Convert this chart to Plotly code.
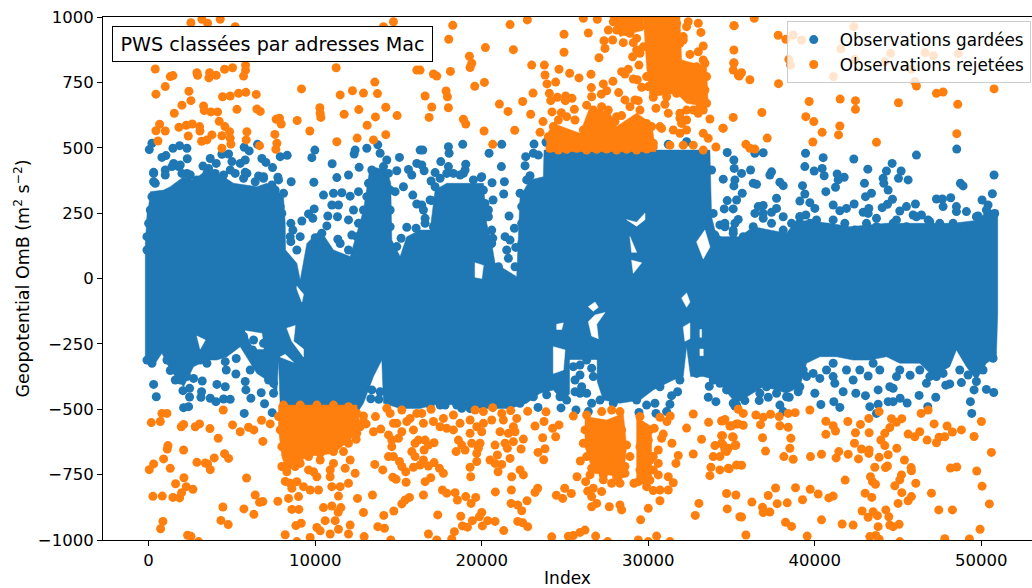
import plotly.graph_objects as go

TITLE = "PWS classées par adresses Mac"
KEPT = "Observations gardées"
REJECTED = "Observations rejetées"
x_ticks = [0, 10000, 20000, 30000, 40000, 50000]
x_labels = ["0", "10000", "20000", "30000", "40000", "50000"]
y_ticks = [-1000, -750, -500, -250, 0, 250, 500, 750, 1000]

# Solid blue mass: outline (x, y), where the points merge
kept_mass = [(-198,130),(-150,200),(-80,260),(2,275),(102,332),(902,338),(1302,351),(2102,389),(2702,377),(3502,415),(4502,389),(5102,364),(6502,351),(7102,364),(8102,313),(8202,211),(8222,109),(8902,58),(9102,-6),(9502,134),(10302,185),(11102,109),(12102,84),(12902,262),(13302,428),(14302,415),(14542,364),(14602,147),(15102,84),(15502,160),(16302,185),(16902,185),(17202,338),(17902,364),(18902,364),(20102,364),(20302,211),(20602,134),(20802,58),(22102,7),(22302,313),(22902,377),(23702,389),(23742,491),(33702,491),(33802,236),(34002,185),(34302,160),(35502,160),(36302,198),(38302,173),(38902,224),(40902,211),(42102,198),(44302,211),(46302,211),(48302,211),(49902,224),(50302,262),(50982,262),(50982,-133),(50902,-299),(50302,-324),(49702,-388),(49102,-337),(48502,-273),(48102,-337),(47102,-375),(46302,-324),(45102,-324),(44302,-299),(43302,-312),(42302,-312),(41302,-299),(40302,-299),(39502,-324),(39102,-414),(38302,-439),(37702,-426),(36902,-414),(35902,-452),(35302,-477),(35102,-465),(34102,-388),(33302,-375),(32542,-375),(32302,-261),(32102,-375),(31502,-388),(30302,-426),(29502,-465),(28302,-477),(27302,-465),(26902,-388),(25302,-439),(24902,-470),(24302,-426),(23502,-439),(22702,-477),(21702,-497),(19902,-497),(18302,-484),(17502,-477),(16302,-497),(15102,-497),(14102,-477),(14002,-312),(13502,-375),(12902,-477),(12502,-516),(7902,-490),(7802,-312),(7702,-439),(7102,-388),(6502,-363),(5502,-261),(4702,-299),(4102,-312),(3502,-312),(2702,-337),(2102,-414),(1302,-350),(802,-286),(402,-324),(-198,-312)]

# Small white gaps left inside the blue mass
mass_gaps = [
    [(24302,-261),(25002,-273),(24902,-350),(24302,-363)],
    [(26402,-165),(26802,-140),(27402,-130),(26902,-175),(27002,-230),(26602,-220)],
    [(26402,-108),(26802,-90),(27002,-110),(26702,-125)],
    [(32002,-75),(32302,-55),(32502,-90),(32302,-110)],
    [(32102,-185),(32502,-170),(32502,-230),(32202,-240)],
    [(33102,-195),(33202,-195),(33202,-225),(33102,-225)],
    [(33102,-270),(33302,-270),(33302,-295),(33102,-295)],
    [(24502,-175),(24902,-170),(24802,-195),(24502,-195)],
    [(25302,-312),(26902,-312),(26902,-439),(25302,-439)],
    [(32902,140),(33402,185),(33702,120),(33302,75)],
    [(29002,70),(29602,60),(29102,20)],
    [(19602,60),(20102,50),(20002,0),(19602,5)],
    [(28902,160),(29302,100),(29002,100)],
    [(28702,225),(29302,215),(29802,250),(29802,225),(29302,200)],
    [(8902,-30),(9302,-60),(9202,-90),(8902,-40)],
    [(8302,-190),(8802,-180),(8702,-240),(9302,-270),(9302,-300),(8602,-240)],
    [(7902,-300),(8302,-310),(8702,-320),(8200,-290)],
    [(5802,-200),(6802,-210),(6902,-270),(6302,-270)],
    [(2902,-220),(3402,-235),(3102,-270)],
]

# Solid orange clusters: outlines
rejected_masses = [
    [(7802,-484),(12502,-484),(12702,-567),(12102,-618),(11102,-669),(9502,-681),(8302,-739),(8002,-681),(7802,-579)],
    [(26202,-528),(27502,-541),(28502,-516),(28702,-643),(28502,-758),(26702,-745),(26202,-643)],
    [(29302,-530),(30202,-567),(30202,-783),(29302,-783)],
    [(23902,549),(24302,593),(25902,555),(26502,657),(27702,632),(28102,581),(29302,632),(30202,593),(30462,485),(23902,485)],
    [(29702,1000),(31902,1000),(32002,836),(33502,810),(33602,657),(32302,670),(31702,708),(30102,695),(29902,810)],
    [(27702,1000),(29702,1000),(29702,950),(28302,925)],
]

kept_top = [(42,493),(202,517),(1462,498),(1862,508),(2302,498),(2322,458),(802,463),(1042,470),(1502,440),(1902,434),(302,406),(302,370),(1002,415),(2302,402),(3262,430),(3702,459),(4062,440),(4402,475),(4802,476),(5002,447),(5502,440),(5802,453),(5742,502),(6042,488),(6542,513),(6802,459),(7042,444),(7442,424),(7902,466),(8322,471),(7762,387),(8562,370),(5802,406),(6602,392),(6902,383),
(9982,491),(9802,462),(11022,439),(9922,368),(11302,386),(12002,396),(12642,425),(12402,491),(12342,476),(13102,498),(13762,511),(13902,479),(14302,453),(15062,463),(14902,412),(15602,417),(15802,396),(16102,440),(16302,491),(15302,351),(14802,332),(15862,319),(16102,285),(12602,332),(12102,315),(11602,328),(10502,319),(11102,326),(11002,281),(11402,281),(12302,262),(12002,224),(11342,236),(10762,239),(9942,266),(9602,247),(9862,230),(9202,220),(8542,211),(8662,185),(9102,160),(8542,141),(15502,196),(15162,154),(16062,192),(10702,201),(10402,173),(10002,156),(11362,150),(12202,166),(14902,122),
(16462,491),(16402,434),(16542,412),(18002,504),(18862,513),(18042,479),(17542,447),(18002,428),(17202,405),(16962,373),(19042,437),(18902,402),(19962,386),(20622,366),(21362,370),(21322,323),(20682,300),(20402,262),(21642,239),(21962,192),(20662,154),(21402,160),(22042,119),(21202,513),(20442,479),(21182,428),(17002,298),(16602,230),(16402,281),(21702,147),
(23142,514),(22642,466),(23102,479),(23402,472),(22602,431),(22902,393),(23862,521),(31202,513),(32302,523),
(34742,482),(36402,479),(36902,481),(35142,453),(35162,421),(35602,402),(36142,415),(34502,380),(35202,377),(35142,354),(36302,364),(36502,360),(37402,408),(37302,396),(37902,368),(38102,355),(35642,326),(34742,298),(35302,300),(35102,266),(34562,266),(37702,307),(36902,279),(36602,275),(36402,249),(37702,268),(37402,253),(38102,236),(35402,226),(35202,211),(36902,230),(33802,415),(33902,249),(34302,205),(34602,198),(34002,166),(34202,147),(35102,173),
(39442,479),(40502,462),(42342,457),(39402,428),(39962,411),(40442,421),(40562,393),(41342,400),(41762,387),(41402,377),(41242,349),(39262,355),(39402,323),(40662,332),(39102,296),(39702,290),(40002,268),(41102,281),(41502,259),(41902,268),(42362,285),(40102,224),(39462,243),(39102,236),
(43182,418),(44642,440),(44302,411),(45182,411),(45022,383),(45602,377),(42982,364),(44102,383),(44142,364),(44402,338),(43402,326),(43042,313),(44662,303),(44362,284),(44042,271),(43242,268),(42902,253),(43202,249),(46102,472),(48522,495),(50762,396),(48742,364),(48902,354),(50662,324),(50042,300),(47302,304),(47662,304),(48162,309),(46042,285),(45502,275),(45102,258),(45902,243),(46402,243),(46802,224),(47702,275),(48502,275),(49102,256),(50402,281),(49802,239),(43102,211),(43702,230),(44902,224),(48502,256)]

kept_top_edge = [(302,402),(402,364),(1002,396),(1402,428),(1802,428),(2002,402),(2502,396),(2902,377),(3502,402),(3602,421),(4002,402),(4502,396),(4902,415),(5202,402),(5702,383),(5902,402),(6402,370),(6902,389),(7402,358),(7802,377),(7602,338),(8102,326),(7302,300),(7902,275),(8002,249),(202,313),(102,262),(2,211),(-98,160),(-98,109),
(8502,160),(8902,109),(9902,109),(10302,134),(11502,134),(12002,109),(12502,160),(12602,211),(12902,262),(13102,313),(13202,364),(13402,415),(14102,428),(14402,402),(14502,338),(14502,262),(14502,198),
(16902,300),(17202,351),(17502,383),(17902,402),(18302,402),(18702,396),(19002,415),(19502,377),(20002,389),(20102,338),(20202,287),(20402,236),(20602,185),(20602,134),(21002,45),(21502,109),(21602,77),(22002,45),(22302,326),(22402,275),(22402,211),(22402,134),(22702,377),(16502,262),(16602,211),(17102,198),
(34602,211),(35102,185),(35702,160),(36302,198),(36902,249),(37402,211),(38102,185),(38602,211),(39102,236),(39702,211),(40302,198),(41102,224),(41802,211),(42402,185),(43102,185),(43702,198),(44702,211),(45502,198),(46102,236),(46902,217),(47502,211),(48302,211),(49002,192),(49702,236),(50302,262),(50802,249)]

kept_bottom = [(202,-324),(302,-405),(462,-452),(802,-258),(1302,-352),(1602,-388),(2062,-429),(2462,-420),(2462,-453),(2102,-494),(2402,-490),(2702,-382),(3222,-392),(3182,-433),(3142,-454),(3702,-458),(4042,-471),(4102,-405),(4602,-414),(4502,-461),(4902,-462),(4662,-350),(4602,-318),(5262,-306),(5242,-365),(4002,-292),(3502,-324),(5802,-394),(5842,-426),(6142,-458),(5742,-516),(6102,-350),(6302,-235),(6242,-273),(6802,-347),(7202,-388),(6762,-437),(7502,-439),(6962,-479),(7422,-513),
(13342,-460),(13822,-462),(13402,-426),(13902,-433),
(23382,-493),(24762,-495),(25662,-503),(26002,-414),(25602,-433),(25902,-331),(25902,-369),(25502,-337),(26402,-509),(26602,-477),(29442,-512),(30462,-516),(31102,-509),(31302,-481),(31402,-448),(31762,-433),(30402,-477),(33662,-412),(33602,-454),(34062,-471),(18802,-496),(17502,-484),(26302,-312),(26602,-343),(26702,-375),(26302,-439),(25902,-439),(25602,-388),
(37902,-484),(38102,-509),(40362,-482),(41142,-471),(41502,-493),(43302,-490),(43802,-481),(43702,-516),(44402,-471),(44702,-471),(45122,-458),(45542,-476),(46782,-490),(46262,-447),(47262,-454),(49342,-471),(49422,-516),(49562,-426),(50302,-424),(50742,-436),(48802,-398),(48102,-403),(47862,-408),(45722,-370),(44702,-420),(43802,-426),(43042,-448),(42462,-439),(41702,-433),(40002,-439),(38462,-454),(37202,-454),(36662,-467),(35802,-467),(35202,-488),(43202,-373),(42302,-388),(40302,-382),(41102,-375),(44502,-414),(46702,-401),(47302,-375),(48702,-350),(49202,-369),(49702,-394),(39002,-433),(39502,-375)]

kept_bottom_edge = [(35502,-439),(35102,-477),(36302,-388),(36702,-439),(37102,-414),(37702,-439),(38302,-452),(39102,-414),(39302,-350),(39902,-363),(40702,-350),(41102,-324),(41202,-401),(41902,-350),(42702,-350),(43502,-324),(43902,-350),(44902,-375),(45102,-350),(46302,-350),(46902,-375),(47702,-363),(49502,-337),(50102,-350),(50702,-305),
(-98,-312),(1102,-312),(1902,-388),(2302,-375),(3102,-312),(5702,-222),(6902,-248),(7502,-401),
(16902,-484),(17802,-484),(18502,-484),(19302,-497),(22302,-477),(23102,-452),(23902,-445),(24702,-452),(25102,-465),(27102,-465),(27902,-477),(29302,-465),(29902,-484),(30702,-414),(31902,-388),(32902,-363),(33902,-388),(34302,-401),(34702,-426),(35302,-484)]

rejected_top_a = [(2542,978),(3202,991),(3542,976),(4302,991),(5202,963),(402,801),(14702,982),(14102,963),(11262,806),(16102,797),(1302,772),(1462,776),(1002,734),(442,705),(2422,716),(2542,680),(2002,663),(1542,632),(2902,787),(2942,777),(3662,787),(3622,767),(4062,777),(4562,800),(5042,806),(5822,816),(5822,797),(5702,774),(4442,695),(4902,698),(5402,708),(5842,712),(6462,704),(3302,660),(3342,642),(3742,637),(4142,637),(5302,647),(6502,648),(6702,639),(7662,609),(7862,613),(7962,591),(8922,604),(9182,725),(10282,653),(10302,632),(10342,616),(11502,702),(12242,718),(12902,709),(13582,751),(13742,707),(12622,646),(11742,628),(14242,655),(14922,623),(13622,618),(13122,586),(14242,550),(12522,537),(13502,530),(11302,523),(9682,564),(662,590),(442,565),(1002,564),(562,526),(1822,578),(2262,586),(2622,591),(3062,581),(3082,564),(4242,601),(4582,581),(4862,561),(4402,546),(3802,549),(2382,545),(3182,525),(3502,530),(4902,536),(4942,514),(5902,561),(5862,530),(7582,551),(6662,508),(7702,517),(7642,494),(4402,498)]

rejected_top_b = [(18262,968),(18022,915),(20222,883),(21902,875),(21702,971),(22742,989),(24942,934),(26402,939),(24942,865),(26102,995),(26942,991),(19262,850),(19402,823),(19302,807),(18122,792),(17102,782),(17302,774),(16302,797),(27042,844),(23002,816),(23762,816),(23802,778),(24642,800),(25282,785),(25842,767),(26562,781),(24442,751),(23922,744),(20162,750),(19582,735),(17862,717),(17942,695),(16602,698),(23082,709),(22462,677),(21062,667),(21582,639),(22942,628),(23682,600),(23502,559),(21982,567),(20142,564),(20662,513),(18902,609),(19042,591),(18002,653),(17002,656),(16842,616),(24062,708),(24142,680),(24542,693),(25042,698),(25022,680),(25422,689),(25562,647),(24222,637),(24782,634),(26582,730),(27302,744),(27502,718),(27182,705),(27882,754),(28222,711),(28602,683),(29202,683),(29402,680),(29602,731),(29102,763),(29342,760),(28402,791),(28802,800),(28602,782),(29442,816),(29062,848),(27402,880),(27342,909),(27862,912),(28502,902),(29102,902),(27602,950),(28302,957),(28902,938),(26302,663),(28402,623),(28102,619),(28902,657),(30462,651),(30802,574),(31202,632),(31002,666),(30702,581),(31502,568),(31902,613),(31302,510),(32102,510),(32702,510),(33302,491),(33302,555),(33702,610),(34482,575),(35102,616),(34062,503),(33602,536),(31902,555),(32302,568),(32502,857),(33302,889),(33002,867),(33302,836),(33162,941),(33002,976),(32302,963),(32402,982),(32102,912),(35162,967),(35142,874),(35142,825),(35102,797),(35402,778)]

rejected_top_c = [(35142,967),(36362,995),(35142,823),(35602,787),(35462,774),(36102,760),(37822,745),(37802,930),(38262,915),(38702,931),(39202,912),(38442,838),(38542,816),(41562,878),(42342,963),(42402,838),(41122,772),(44202,829),(44542,861),(45802,800),(46622,864),(47122,852),(48622,860),(46002,753),(46102,736),(47302,708),(47702,713),(50762,725),(48582,666),(45022,672),(42442,680),(42442,647),(41522,686),(39662,677),(39462,619),(39942,600),(41502,583),(41422,549),(40442,559),(39882,522),(43702,521),(48522,554),(36822,635),(34502,575),(37142,537),(35862,513),(36102,498),(36402,495)]

rejected_top_edge = [(24102,498),(24602,491),(25102,494),(25702,498),(26302,491),(26902,494),(27502,495),(28102,491),(28702,494),(29302,491),(29902,495),(30302,504),
(24002,542),(24302,581),(24602,606),(25102,619),(25602,606),(26102,568),(26502,593),(26702,644),(26602,695),(27202,657),(27602,644),(28002,600),(28502,574),(28902,593),(29502,644),(29902,593),(30202,581),(30302,517),
(29702,886),(29502,861),(29302,874),(29902,772),(30002,734),(30302,693),(31102,695),(31702,708),(31902,899),(32102,925),(31702,976),(32302,797),(32902,810),(33402,823),(33502,772),(33402,721),(33502,670),(33102,657),(32702,644),(32302,644),(31902,632),(33302,644),(33002,632),(32302,606),(32002,593),
(27902,982),(28502,969),(29102,976),(29502,963),(28102,950),(28702,944),(29302,918)]

rejected_low_a = [(162,-551),(702,-547),(802,-516),(1102,-516),(1962,-567),(2102,-558),(2802,-567),(3062,-556),(3682,-574),(4482,-503),(4182,-611),(5042,-560),(5502,-586),(6002,-569),(6322,-579),(6782,-542),(7302,-556),(6862,-623),(1162,-639),(1122,-652),(2102,-656),(902,-690),(302,-709),(42,-731),(1302,-726),(2902,-703),(3402,-706),(3942,-686),(3542,-709),(3702,-731),(4562,-670),(4802,-688),(2122,-762),(1622,-785),(2262,-796),(2662,-806),(1982,-819),(262,-833),(822,-832),(1462,-837),(1862,-839),(5882,-763),(6402,-828),(6662,-856),(6862,-853),(4462,-874),(5722,-881),(6322,-902),(4342,-925),(4782,-941),(862,-929),(722,-957),(2342,-982),(2542,-986),(3002,-1006),(7762,-852),(8202,-776),(8202,-980),(8402,-841),(8602,-883),(9022,-883),(8842,-945),(9162,-936),(8902,-1006),(9702,-990),(10102,-952),(10602,-926),(10502,-876),(11002,-870),(11542,-876),(11382,-894),(11202,-926),(10302,-965),(10902,-977),(11402,-959),(12102,-943),(12002,-977),(12542,-841),(12902,-895),(13442,-828),(12942,-987),(13762,-949),(14162,-955),(14122,-906),(14722,-889),(14542,-1000),(15202,-862),(15402,-847),(15662,-837),(8502,-783),(8902,-777),(8602,-802),(9002,-834),(9302,-796),(9702,-809),(9602,-732),(10202,-809),(10102,-758),(10902,-758),(11002,-796),(11502,-796),(12002,-783),(12402,-745),(11802,-726),(11102,-707),(12102,-694),(10302,-694),(9902,-739),(11402,-832),(10902,-732),(12902,-526),(13062,-556),(13622,-528),(13502,-586),(13942,-576),(12462,-615),(13582,-711),(14062,-732),(14662,-760),(14862,-768),(15462,-779),(15442,-739),(15902,-722),(16302,-713),(14402,-681),(14702,-681),(15062,-700),(15202,-719),(14302,-496),(14502,-516),(14702,-554),(14402,-598),(14602,-618),(14602,-643),(14902,-554),(15202,-503),(15502,-547),(15702,-535),(15202,-586),(15002,-611),(15902,-579),(16102,-516),(16002,-630),(15802,-662),(16002,-681),(16202,-618)]

rejected_low_b = [(16962,-500),(16402,-516),(16502,-554),(17102,-547),(17702,-535),(17502,-567),(17902,-573),(18302,-522),(18702,-554),(18302,-579),(19302,-541),(19602,-503),(20102,-509),(20662,-494),(21202,-516),(21742,-505),(22102,-535),(22762,-508),(23862,-510),(19702,-567),(20102,-554),(20602,-541),(21302,-541),(21902,-567),(19302,-592),(20002,-586),(21102,-586),(21602,-592),(22002,-586),(22502,-614),(21902,-624),(21402,-630),(20802,-637),(19402,-630),(19902,-630),(18602,-618),(18802,-637),(18462,-662),(19002,-656),(19702,-669),(19802,-649),(22362,-652),(21542,-649),(20942,-675),(20502,-694),(21202,-711),(20802,-707),(21702,-688),(19702,-700),(19302,-722),(19342,-758),(20982,-739),(21802,-758),(22302,-732),(22502,-751),(16602,-618),(17142,-628),(16802,-637),(16542,-656),(16502,-694),(17142,-704),(16802,-717),(17462,-726),(17702,-745),(16942,-762),(16602,-777),(17642,-809),(17902,-821),(18402,-819),(18542,-847),(19042,-834),(19642,-837),(19362,-860),(20822,-816),(21782,-809),(16502,-828),(21762,-860),(22162,-866),(22402,-888),(22722,-850),(23202,-818),(23362,-802),(24482,-829),(24862,-841),(24982,-802),(25382,-822),(17362,-904),(18742,-909),(19442,-926),(20002,-895),(19862,-911),(20362,-926),(20802,-929),(18842,-946),(19142,-951),(20042,-946),(18362,-968),(21322,-964),(22162,-929),(22462,-934),(22762,-949),(16802,-977),(17302,-1000),(18202,-996),(24202,-988),(25202,-986),(25502,-983),(25902,-971),(26202,-962),(26842,-985),(27562,-1006),(23202,-564),(23742,-547),(24262,-573),(24642,-560),(24442,-605),(23662,-609),(23802,-651),(23382,-665),(23722,-693),(25502,-526),(25922,-698),(25722,-758),(26242,-777),(26362,-813),(26602,-834),(26602,-873),(26902,-860),(27662,-873),(28302,-866),(28402,-885),(30002,-879),(29542,-923),(30702,-850),(30702,-809),(30302,-811),(29902,-796),(29402,-777),(29142,-783),(31202,-809),(31502,-781),(31202,-758),(31662,-707),(31802,-677),(31422,-630),(30902,-595),(30802,-611),(30362,-573),(31322,-526),(31122,-547),(30702,-531),(29402,-1000),(30502,-985),(30002,-1006),(31302,-1006),(28302,-783),(27802,-783),(27202,-815),(26702,-802),(27302,-770),(26502,-751),(30602,-656),(30602,-707),(30602,-751),(30302,-681),(30302,-732),(28902,-681),(28602,-719),(28302,-751),(32702,-518),(32302,-572),(33202,-615),(32702,-671),(33622,-550),(34402,-545),(34602,-539),(34902,-564),(35302,-556),(34402,-601),(35062,-605),(34002,-639),(34502,-637),(35202,-639),(33902,-681),(34702,-662),(35302,-713),(34802,-726),(34302,-732),(33762,-722),(33702,-754),(34702,-822),(35262,-828),(34742,-881),(33042,-860),(32822,-906),(35502,-911)]

rejected_low_c = [(35402,-500),(35702,-516),(34502,-544),(35002,-563),(35402,-556),(35702,-561),(36462,-522),(36902,-531),(37342,-519),(36742,-559),(37862,-528),(38402,-516),(38822,-513),(37902,-563),(38402,-569),(39702,-503),(36862,-609),(37042,-660),(34462,-601),(35102,-607),(35262,-637),(34802,-649),(34402,-630),(38562,-611),(38502,-649),(38142,-681),(38702,-691),(39742,-681),(40402,-672),(40662,-546),(41102,-563),(41242,-583),(40662,-596),(41982,-547),(42742,-558),(42442,-590),(43262,-590),(43242,-535),(43862,-509),(44602,-536),(45222,-536),(44902,-550),(44502,-570),(44202,-592),(43962,-618),(44202,-639),(42382,-630),(42802,-652),(43262,-656),(43242,-669),(42002,-672),(41442,-662),(41282,-686),(42622,-690),(43862,-684),(44402,-674),(44922,-649),(45382,-694),(43602,-722),(44362,-717),(44242,-723),(45782,-723),(45802,-735),(45602,-595),(46002,-605),(46302,-586),(46742,-618),(46382,-516),(46802,-503),(47162,-556),(47942,-564),(47302,-628),(47462,-607),(47802,-605),(48262,-587),(48802,-579),(49562,-604),(50002,-547),(50602,-665),(48142,-725),(48522,-721),(49722,-736),(50042,-794),(50482,-862),(49922,-959),(48262,-885),(47442,-885),(47802,-995),(49282,-996),(47002,-821),(46062,-783),(45202,-751),(45102,-770),(44802,-793),(45222,-819),(45802,-834),(45602,-850),(45002,-860),(44262,-885),(44442,-911),(44502,-943),(45062,-940),(44702,-949),(43802,-949),(43762,-907),(43502,-892),(43202,-913),(42842,-889),(43022,-821),(43422,-837),(43342,-758),(43462,-777),(43642,-787),(41822,-771),(41102,-832),(40842,-839),(40202,-824),(39722,-806),(39262,-846),(38842,-800),(38342,-858),(37742,-861),(37642,-801),(37202,-830),(36222,-855),(36862,-875),(36902,-895),(37302,-893),(35602,-912),(38242,-932),(38602,-948),(40402,-923),(41642,-939),(42302,-943),(35862,-981),(39542,-985),(43302,-987),(43662,-983),(43862,-997),(45102,-1006),(34862,-728),(35602,-714),(34602,-656),(34302,-681)]

rejected_low_edge = [(8002,-719),(8302,-739),(8802,-719),(9102,-707),(9602,-681),(10302,-669),(11102,-662),(11702,-662),(12002,-630),(12502,-592),(12702,-567),(12902,-547),(7802,-528),(7902,-579),(8002,-643),(8102,-484),(9102,-484),(10102,-484),(11102,-484),(12002,-490),(12502,-516),
(26302,-522),(26202,-579),(26102,-630),(26302,-681),(26602,-726),(27302,-751),(28102,-758),(28602,-745),(28702,-637),(28402,-579),(28302,-509),(27802,-503),(27202,-509),
(29502,-528),(29602,-567),(30102,-579),(30002,-618),(29502,-643),(30102,-694),(29502,-732),(30102,-771),(29602,-771)]

BLUE = "#1f77b4"
ORANGE = "#ff7f0e"
FONT = "DejaVu Sans"


def rings(polygons):
    xs, ys = [], []
    for poly in polygons:
        xs += [p[0] for p in poly] + [poly[0][0], None]
        ys += [p[1] for p in poly] + [poly[0][1], None]
    return xs, ys


def area(polygons, colour):
    xs, ys = rings(polygons)
    return go.Scatter(x=xs, y=ys, mode="lines", fill="toself", fillcolor=colour,
                      line=dict(color=colour, width=0.5), showlegend=False, hoverinfo="skip")


def dots(points, colour, name):
    return go.Scatter(x=[p[0] for p in points], y=[p[1] for p in points], mode="markers", name=name,
                      marker=dict(color=colour, size=9, line=dict(width=0)), hoverinfo="skip")


fig = go.Figure()
fig.add_trace(area([kept_mass], BLUE))
fig.add_trace(area(mass_gaps, "white"))
fig.add_trace(dots(kept_top + kept_top_edge + kept_bottom + kept_bottom_edge, BLUE, KEPT))
fig.add_trace(area(rejected_masses, ORANGE))
fig.add_trace(dots(rejected_top_a + rejected_top_b + rejected_top_c + rejected_top_edge + rejected_low_a + rejected_low_b + rejected_low_c + rejected_low_edge, ORANGE, REJECTED))

fig.add_annotation(text=TITLE, xref="paper", yref="paper", x=0.0095, y=0.9825, xanchor="left", yanchor="top",
                   showarrow=False, bgcolor="white", bordercolor="black", borderwidth=1, borderpad=0,
                   width=319, height=34, align="center",
                   font=dict(family=FONT, size=19.2, color="black"))

fig.update_layout(
    width=1032, height=588, margin=dict(l=103, r=0, t=17, b=48, autoexpand=False),
    paper_bgcolor="white", plot_bgcolor="white", font=dict(family=FONT, size=16.5, color="black"),
    legend=dict(x=0.736, y=0.992, xanchor="left", yanchor="top", bgcolor="rgba(255,255,255,0.8)",
                bordercolor="#cccccc", borderwidth=1, font=dict(family=FONT, size=16.8), itemwidth=42,
                tracegroupgap=0),
    xaxis=dict(range=[-2737, 53040], tickmode="array", tickvals=x_ticks, ticktext=x_labels,
               ticks="outside", ticklen=5, tickwidth=1, tickcolor="black",
               showgrid=False, zeroline=False, showline=True, linecolor="black", linewidth=1, mirror=True,
               title=dict(text="Index", font=dict(family=FONT, size=17), standoff=4)),
    yaxis=dict(range=[-1000, 1000], tickvals=y_ticks, ticks="outside", ticklen=5, tickwidth=1, tickcolor="black",
               showgrid=False, zeroline=False, showline=True, linecolor="black", linewidth=1,
               title=dict(text="Geopotential OmB (m<sup>2</sup> s<sup>−2</sup>)", font=dict(family=FONT, size=17.5), standoff=3)),
)
fig.write_html("out.html", config=dict(displayModeBar=False),
               post_script="document.body.style.margin='0';document.documentElement.style.overflow='hidden';")
